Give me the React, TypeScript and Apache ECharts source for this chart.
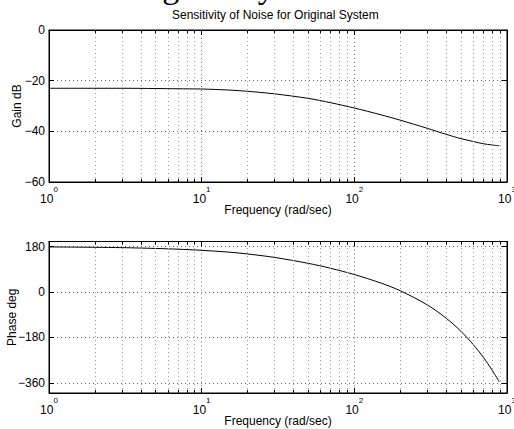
import React, { useEffect, useRef } from "react";
import * as echarts from "echarts";

const freq = [1, 2, 3, 5, 7, 10, 15, 20, 30, 50, 70, 100, 150, 200, 300, 400, 500, 600, 700, 800, 890];
// Gain (dB)
const gainDb = [-23.0, -23.0, -23.0, -23.1, -23.2, -23.3, -23.7, -24.2, -25.2, -27.0, -28.7, -30.8, -33.5, -35.6, -38.8, -41.2, -42.9, -44.0, -44.9, -45.4, -45.7];
// Phase (deg)
const phaseDeg = [178.5, 177, 175.7, 172.5, 169.5, 165, 158, 150.6, 137, 113.4, 93.9, 69.2, 35, 5, -50.7, -103.9, -156, -207.6, -258.8, -309.9, -356];

const minorFreqs = [2, 3, 4, 5, 6, 7, 8, 9, 20, 30, 40, 50, 60, 70, 80, 90, 200, 300, 400, 500, 600, 700, 800, 900];
const gainTicks = [-60, -40, -20, 0];
const phaseTicks = [-360, -180, 0, 180];

const titleText = "Sensitivity of Noise for Original System";
const xName = "Frequency (rad/sec)";
const gainName = "Gain dB";
const phaseName = "Phase deg";
const clippedHeading = "Original System";

const FONT = "'Liberation Sans', Arial, Helvetica, sans-serif";

export default function App() {
  const ref = useRef<HTMLDivElement>(null);
  useEffect(() => {
    document.body.style.margin = "0";
    if (!ref.current) return;
    const chart = echarts.init(ref.current, undefined, { renderer: "svg" });

    const fmtNum = (v: number) => String(v).replace("-", "\u2212");
    const xLabel = (v: number) => `{b|10}{s|${Math.round(Math.log10(v))}}`;

    const mkX = (gridIndex: number, position: "bottom" | "top", labels: boolean) => ({
      type: "log",
      logBase: 10,
      gridIndex,
      position,
      min: 1,
      max: 1000,
      name: labels ? xName : "",
      nameLocation: "middle",
      nameGap: 22,
      nameMoveOverlap: false,
      nameTextStyle: { fontFamily: FONT, fontSize: 12, color: "#000" },
      axisLine: { show: true, onZero: false, lineStyle: { color: "#000", width: 1 } },
      axisTick: { show: true, inside: true, length: 5, lineStyle: { color: "#000" } },
      axisLabel: {
        show: labels,
        margin: 3,
        formatter: xLabel,
        rich: {
          b: { fontFamily: FONT, fontSize: 12, color: "#000", lineHeight: 20, verticalAlign: "bottom" },
          s: { fontFamily: FONT, fontSize: 8, color: "#000", lineHeight: 20, verticalAlign: "top" },
        },
      },
      splitLine: {
        show: labels,
        lineStyle: { color: "#666", type: [1, 3], width: 1 },
      },
    });

    const mkY = (gridIndex: number, position: "left" | "right", labels: boolean, min: number, max: number, ticks: number[], name: string, gap: number) => ({
      type: "value",
      gridIndex,
      position,
      min,
      max,
      name: labels ? name : "",
      nameLocation: "middle",
      nameGap: gap,
      nameRotate: 90,
      nameMoveOverlap: false,
      nameTextStyle: { fontFamily: FONT, fontSize: 12, color: "#000" },
      axisLine: { show: true, onZero: false, lineStyle: { color: "#000", width: 1 } },
      axisTick: { show: true, inside: true, length: 5, customValues: ticks, lineStyle: { color: "#000" } },
      axisLabel: {
        show: labels,
        customValues: ticks,
        margin: 4,
        fontFamily: FONT,
        fontSize: 12,
        color: "#000",
        formatter: (v: number) => fmtNum(v),
      },
      splitLine: {
        show: labels,
        customValues: ticks,
        lineStyle: { color: "#666", type: [1, 3], width: 1 },
      },
    });

    const minorLines = () => ({
      silent: true,
      symbol: "none",
      label: { show: false },
      lineStyle: { color: "#999", type: [1, 3], width: 1 },
      data: minorFreqs.map((f) => ({ xAxis: f })),
    });

    const minorTickMarks = (yMin: number, yMax: number, len: number) => ({
      silent: true,
      symbol: "none",
      label: { show: false },
      lineStyle: { color: "#000", type: "solid", width: 1 },
      data: minorFreqs.flatMap((f) => [
        [{ coord: [f, yMin] }, { coord: [f, yMin + len] }],
        [{ coord: [f, yMax] }, { coord: [f, yMax - len] }],
      ]),
    });

    chart.setOption({
      animation: false,
      backgroundColor: "#fff",
      title: {
        text: titleText,
        left: 172,
        top: 9,
        padding: 0,
        textStyle: { fontFamily: FONT, fontSize: 12, fontWeight: "normal", color: "#000" },
      },
      graphic: [
        {
          type: "text",
          left: 117,
          top: -31,
          style: { text: clippedHeading, font: "34px 'Liberation Serif', 'DejaVu Serif', serif", fill: "#000" },
        },
      ],
      grid: [
        { left: 49, top: 30, width: 458, height: 152, outerBoundsMode: "none", containLabel: false, show: true, borderColor: "#000", borderWidth: 1, backgroundColor: "#fff" },
        { left: 49, top: 241.5, width: 458, height: 151.5, outerBoundsMode: "none", containLabel: false, show: true, borderColor: "#000", borderWidth: 1, backgroundColor: "#fff" },
      ],
      xAxis: [mkX(0, "bottom", true), mkX(0, "top", false), mkX(1, "bottom", true), mkX(1, "top", false)],
      yAxis: [
        mkY(0, "left", true, -60, 0, gainTicks, gainName, 26),
        mkY(0, "right", false, -60, 0, gainTicks, gainName, 26),
        mkY(1, "left", true, -400, 200, phaseTicks, phaseName, 31),
        mkY(1, "right", false, -400, 200, phaseTicks, phaseName, 31),
      ],
      series: [
        {
          type: "line",
          xAxisIndex: 0,
          yAxisIndex: 0,
          data: freq.map((f, i) => [f, gainDb[i]]),
          showSymbol: false,
          smooth: 0.3,
          lineStyle: { color: "#000", width: 1 },
          markLine: minorLines(),
        },
        {
          type: "line",
          xAxisIndex: 0,
          yAxisIndex: 0,
          data: [],
          markLine: minorTickMarks(-60, 0, 1.2),
        },
        {
          type: "line",
          xAxisIndex: 2,
          yAxisIndex: 2,
          data: freq.map((f, i) => [f, phaseDeg[i]]),
          showSymbol: false,
          smooth: 0.3,
          lineStyle: { color: "#000", width: 1 },
          markLine: minorLines(),
        },
        {
          type: "line",
          xAxisIndex: 2,
          yAxisIndex: 2,
          data: [],
          markLine: minorTickMarks(-400, 200, 12),
        },
      ],
    });
    return () => chart.dispose();
  }, []);
  return <div ref={ref} style={{ width: 514, height: 429 }} />;
}
